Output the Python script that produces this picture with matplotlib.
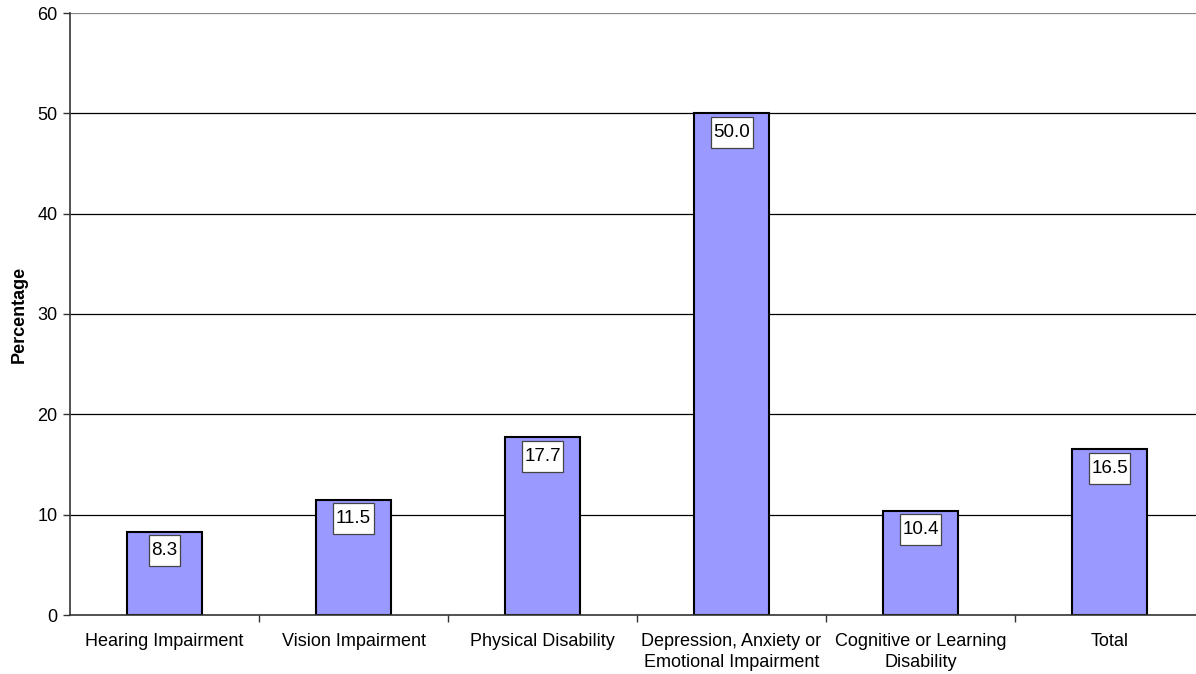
import matplotlib.pyplot as plt
from matplotlib.path import Path
import numpy as np

plt.rcParams["font.family"] = ["Liberation Sans", "DejaVu Sans"]

categories = [
    "Hearing Impairment",
    "Vision Impairment",
    "Physical Disability",
    "Depression, Anxiety or\nEmotional Impairment",
    "Cognitive or Learning\nDisability",
    "Total",
]
values = [8.3, 11.5, 17.7, 50.0, 10.4, 16.5]
y_ticks = [0, 10, 20, 30, 40, 50, 60]


def label_box(x0, y0, width, height, mutation_size):
    # tight sides, taller top/bottom like the old Excel data labels
    px = 0.14 * mutation_size
    py = 0.37 * mutation_size
    x0, y0 = x0 - px, y0 - py
    x1, y1 = x0 + width + 2 * px, y0 + height + 2 * py
    return Path([(x0, y0), (x1, y0), (x1, y1), (x0, y1), (x0, y0)], closed=True)


fig = plt.figure(figsize=(11.96, 6.74), dpi=100)
# plot area runs slightly past the right edge like the original
ax = fig.add_axes([70 / 1196, 59 / 674, 1134 / 1196, 602 / 674])

x = np.arange(len(categories))
ax.bar(x, values, width=0.40, color="#9999FF", edgecolor="black", linewidth=1.5, zorder=3)

for xi, v in zip(x, values):
    ax.annotate(
        f"{v:.1f}",
        xy=(xi, v),
        xytext=(0, -7.5),
        textcoords="offset points",
        ha="center",
        va="top",
        fontsize=13.5,
        zorder=4,
        bbox=dict(boxstyle=label_box, facecolor="white", edgecolor="#444444", linewidth=0.9),
    )

ax.set_xlim(-0.5, len(categories) - 0.5)
ax.set_ylim(0, 60)
ax.set_yticks(y_ticks)
ax.set_yticklabels([str(t) for t in y_ticks], fontsize=13)
for t in y_ticks[1:]:
    ax.axhline(t, color="black" if t < 60 else "#888888", linewidth=0.9, zorder=1)

ax.set_xticks(x)
ax.set_xticklabels(categories, fontsize=13, linespacing=1.3)
ax.tick_params(axis="x", which="major", length=0, pad=13)
ax.set_xticks(np.arange(len(categories)) + 0.5, minor=True)
ax.tick_params(axis="x", which="minor", length=5, width=1, color="#333333")
ax.tick_params(axis="y", length=5, width=1, color="#333333", pad=4)

ax.set_ylabel("Percentage", fontsize=13, fontweight="bold", labelpad=7)

for side in ["top", "right"]:
    ax.spines[side].set_visible(False)
for side in ["left", "bottom"]:
    ax.spines[side].set_color("#333333")
    ax.spines[side].set_linewidth(1.2)
    ax.spines[side].set_zorder(5)

plt.savefig("out.png", dpi=100)
plt.close()
